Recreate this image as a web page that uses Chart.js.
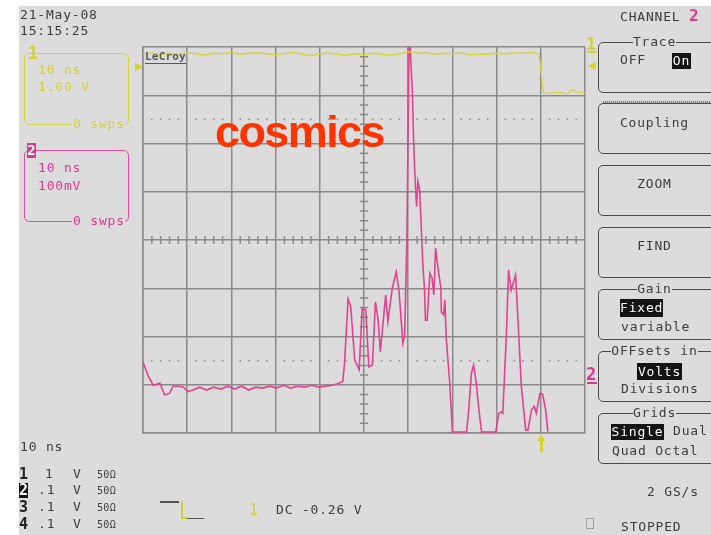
<!DOCTYPE html>
<html><head><meta charset="utf-8">
<script src="https://cdn.jsdelivr.net/npm/chart.js@4"></script>
<style>
html,body{margin:0;padding:0;width:711px;height:535px;overflow:hidden;background:#fff;position:relative;}
#bg{position:absolute;left:19px;top:6px;width:692px;height:529px;background:#dcdcdc;}
#c{position:absolute;left:0;top:0;}
.t{position:absolute;font-family:'DejaVu Sans Mono',monospace;font-size:13px;line-height:16px;letter-spacing:0.8px;color:#3c3c3c;white-space:pre;}
.y{color:#d2d23a;}
.p{color:#e0388a;}
.box{position:absolute;border:1px solid #4a4a4a;border-radius:5px;}
.hl{position:absolute;background:#141414;color:#fff;font-family:'DejaVu Sans Mono',monospace;font-size:13px;letter-spacing:0.8px;text-align:center;white-space:pre;}
.ctr{text-align:center;width:113px;left:598px;}
.bgc{background:#dcdcdc;}
.big{font-size:17px;line-height:17px;letter-spacing:0;font-weight:bold;}
.r{position:absolute;}
</style></head>
<body>
<div id="bg"></div>
<canvas id="c" width="711" height="535"></canvas>

<!-- header -->
<div class="t" style="left:20px;top:7px;">21-May-08</div>
<div class="t" style="left:20px;top:23px;">15:15:25</div>

<!-- channel 1 box -->
<div class="box" style="left:24px;top:53px;width:103px;height:70px;border-color:#d4d440;"></div>
<div class="t y big" style="left:28px;top:45px;">1</div>
<div class="t y" style="left:38px;top:62px;">10 ns</div>
<div class="t y" style="left:38px;top:79px;">1.00 V</div>
<div class="t y bgc" style="left:72px;top:116px;padding-left:1px;">0 swps</div>
<div class="r" style="left:135px;top:63px;width:0;height:0;border-left:8px solid #d4d42a;border-top:4px solid transparent;border-bottom:4px solid transparent;"></div>

<!-- channel 2 box -->
<div class="box" style="left:24px;top:150px;width:103px;height:70px;border-color:#e0509a;"></div>
<div class="hl" style="left:27px;top:143px;width:9px;height:15px;line-height:15px;background:#e0388a;font-weight:bold;font-size:14px;letter-spacing:0;">2</div>
<div class="t p" style="left:38px;top:160px;">10 ns</div>
<div class="t p" style="left:38px;top:178px;">100mV</div>
<div class="t p bgc" style="left:72px;top:213px;padding-left:1px;">0 swps</div>

<!-- LeCroy logo -->
<div class="t" style="left:145px;top:51px;font-size:11px;line-height:12px;letter-spacing:0.2px;font-weight:bold;color:#5a5a5a;border-bottom:1.5px solid #5a5a5a;">LeCroy</div>

<!-- cosmics label -->
<div class="r" style="left:215px;top:109px;font-family:'Liberation Sans',Arial,sans-serif;font-weight:bold;font-size:45px;line-height:45px;letter-spacing:-1.6px;color:#ff3300;">cosmics</div>

<!-- right side markers -->
<div class="t" style="left:620px;top:9px;">CHANNEL</div>
<div class="t p" style="left:689px;top:8px;font-size:16px;font-weight:bold;">2</div>
<div class="t y big" style="left:586px;top:36px;">1</div>
<div class="r" style="left:587px;top:51px;width:10px;height:2px;background:#d4d42a;"></div>
<div class="r" style="left:588px;top:62px;width:0;height:0;border-right:8px solid #d4d42a;border-top:4px solid transparent;border-bottom:4px solid transparent;"></div>
<div class="t p big" style="left:586px;top:366px;">2</div>
<div class="r" style="left:587px;top:382px;width:10px;height:2px;background:#e0388a;"></div>

<!-- buttons -->
<div class="box" style="left:598px;top:42px;width:130px;height:49px;"></div>
<div class="t ctr" style="top:34px;"><span class="bgc">Trace</span></div>
<div class="t" style="left:620px;top:52px;">OFF</div>
<div class="hl" style="left:672px;top:53px;width:19px;height:16px;line-height:16px;">On</div>

<div class="box" style="left:598px;top:103px;width:130px;height:49px;"></div>
<div class="r" style="left:603px;top:101px;width:120px;height:2px;background:repeating-linear-gradient(90deg,#777 0 1px,#cfcfcf 1px 2px);"></div>
<div class="t ctr" style="top:115px;">Coupling</div>

<div class="box" style="left:598px;top:165px;width:130px;height:49px;"></div>
<div class="t ctr" style="top:176px;">ZOOM</div>

<div class="box" style="left:598px;top:227px;width:130px;height:49px;"></div>
<div class="t ctr" style="top:238px;">FIND</div>

<div class="box" style="left:598px;top:289px;width:130px;height:49px;"></div>
<div class="t ctr" style="top:281px;"><span class="bgc">Gain</span></div>
<div class="hl" style="left:620px;top:299px;width:43px;height:18px;line-height:18px;">Fixed</div>
<div class="t" style="left:621px;top:319px;">variable</div>

<div class="box" style="left:598px;top:351px;width:130px;height:49px;"></div>
<div class="t ctr" style="top:343px;"><span class="bgc">OFFsets in</span></div>
<div class="hl" style="left:637px;top:363px;width:45px;height:17px;line-height:17px;">Volts</div>
<div class="t" style="left:621px;top:381px;">Divisions</div>

<div class="box" style="left:598px;top:413px;width:130px;height:49px;"></div>
<div class="t ctr" style="top:405px;"><span class="bgc">Grids</span></div>
<div class="hl" style="left:611px;top:424px;width:53px;height:16px;line-height:16px;">Single</div>
<div class="t" style="left:673px;top:423px;">Dual</div>
<div class="t" style="left:612px;top:443px;">Quad Octal</div>

<div class="t" style="left:647px;top:484px;">2 GS/s</div>
<div class="r" style="left:586px;top:518px;width:6px;height:9px;border:1px solid #a0a0a0;"></div>
<div class="t" style="left:621px;top:519px;">STOPPED</div>

<!-- bottom left -->
<div class="t" style="left:20px;top:439px;">10 ns</div>
<div class="t" style="left:19px;top:466px;font-weight:bold;font-size:15px;letter-spacing:0;color:#222;">1</div>
<div class="hl" style="left:19px;top:483px;width:9px;height:15px;line-height:15px;font-weight:bold;font-size:15px;letter-spacing:0;">2</div>
<div class="t" style="left:19px;top:499px;font-weight:bold;font-size:15px;letter-spacing:0;color:#222;">3</div>
<div class="t" style="left:19px;top:516px;font-weight:bold;font-size:15px;letter-spacing:0;color:#222;">4</div>
<div class="t" style="left:45px;top:466px;">1</div>
<div class="t" style="left:38px;top:482px;">.1</div>
<div class="t" style="left:38px;top:499px;">.1</div>
<div class="t" style="left:38px;top:516px;">.1</div>
<div class="t" style="left:73px;top:466px;">V</div>
<div class="t" style="left:73px;top:482px;">V</div>
<div class="t" style="left:73px;top:499px;">V</div>
<div class="t" style="left:73px;top:516px;">V</div>
<div class="t" style="left:97px;top:467px;font-size:10px;letter-spacing:0.3px;">50Ω</div>
<div class="t" style="left:97px;top:483px;font-size:10px;letter-spacing:0.3px;">50Ω</div>
<div class="t" style="left:97px;top:500px;font-size:10px;letter-spacing:0.3px;">50Ω</div>
<div class="t" style="left:97px;top:517px;font-size:10px;letter-spacing:0.3px;">50Ω</div>

<!-- trigger symbol -->
<div class="r" style="left:160px;top:501px;width:19px;height:1.5px;background:#555;"></div>
<div class="r" style="left:181px;top:501px;width:2px;height:17px;background:#d4d42a;"></div>
<div class="r" style="left:181px;top:517px;width:6px;height:2px;background:#d4d42a;"></div>
<div class="r" style="left:187px;top:517.5px;width:17px;height:1.5px;background:#555;"></div>
<div class="t y" style="left:249px;top:502px;font-size:15px;letter-spacing:0;">1</div>
<div class="t" style="left:276px;top:502px;">DC -0.26 V</div>

<!-- trigger arrow under grid -->
<div class="r" style="left:537px;top:434px;width:0;height:0;border-bottom:7px solid #d4d42a;border-left:4px solid transparent;border-right:4px solid transparent;"></div>
<div class="r" style="left:540px;top:440px;width:3px;height:12px;background:#d4d42a;"></div>

<script>
// ---- Data ----
// Channel 1 (yellow), 1 V/div, time in ns (10 ns/div, screen centre = 0)
const ch1_time_ns = [-50,-48,-46,-44,-42,-40,-38,-36,-34,-32,-30,-28,-26,-24,-22,-20,-18,-16,-14,-12,-10,-8,-6,-4,-2,0,2,4,6,8,10,12,14,16,18,20,22,24,26,28,30,32,34,36,38,39.6,40.6,42,44,46,47.2,48,50];
const ch1_V = [3.86,3.88,3.84,3.87,3.85,3.88,3.86,3.83,3.87,3.86,3.89,3.85,3.87,3.88,3.86,3.84,3.87,3.89,3.85,3.82,3.86,3.88,3.85,3.83,3.86,3.84,3.87,3.85,3.83,3.86,3.90,3.87,3.88,3.85,3.87,3.86,3.88,3.84,3.85,3.85,3.87,3.86,3.88,3.87,3.89,3.86,3.05,3.04,3.06,3.03,3.12,3.07,3.05];

// Channel 2 (magenta), 100 mV/div
const ch2_time_ns = [-50.0,-48.9,-47.7,-46.2,-45.1,-44.0,-43.2,-42.1,-41.0,-39.8,-38.7,-37.2,-35.6,-34.0,-32.4,-30.8,-29.3,-27.7,-26.1,-24.5,-22.9,-21.3,-19.8,-18.2,-16.6,-15.0,-13.4,-11.8,-10.3,-8.7,-7.1,-6.0,-4.8,-4.4,-3.6,-3.0,-2.1,-1.1,-0.4,0.4,1.1,1.9,2.6,3.2,3.7,4.9,5.4,6.4,7.3,7.9,8.8,9.2,9.7,10.2,10.45,10.95,11.2,11.5,11.9,12.2,12.6,13.0,13.3,13.7,13.9,14.3,14.9,15.4,15.8,16.2,16.7,17.4,17.5,18.0,18.3,18.6,19.4,20.0,23.2,23.7,24.3,24.8,25.4,26.0,26.6,29.8,30.5,31.1,31.4,32.2,32.7,33.3,34.3,34.8,35.6,36.6,37.1,37.9,38.5,39.0,39.8,40.4,41.1,41.6];
const ch2_mV = [-253,-280,-301,-297,-321,-318,-303,-303,-304,-314,-311,-305,-311,-305,-309,-303,-309,-303,-311,-305,-307,-303,-307,-301,-307,-303,-305,-301,-305,-303,-301,-298,-293,-255,-122,-138,-249,-269,-141,-145,-263,-259,-128,-166,-232,-114,-169,-100,-66,-104,-214,-197,0,398,398,307,214,139,69,121,104,17,-48,-104,-166,-166,-69,-79,-114,-17,-55,-100,-149,-155,-124,-203,-297,-398,-398,-352,-276,-259,-297,-352,-398,-398,-359,-356,-359,-200,-62,-104,-73,-159,-304,-394,-394,-352,-345,-359,-318,-319,-352,-397];

const ch1_V_per_div = 1;
const ch2_mV_per_div = 100;

// screen: 10 horizontal divisions, 8 vertical divisions
const timeMin = -50, timeMax = 50, timeStep = 10;
const divMin = -4, divMax = 4;

const ch1Points = ch1_time_ns.map((t, i) => ({x: t, y: ch1_V[i] / ch1_V_per_div}));
const ch2Points = ch2_time_ns.map((t, i) => ({x: t, y: ch2_mV[i] / ch2_mV_per_div}));

const GRID = '#8a8a8a';

const scopeMarks = {
  id: 'scopeMarks',
  beforeDatasetsDraw(chart) {
    const {ctx, scales: {x, y}} = chart;
    ctx.save();
    ctx.strokeStyle = GRID; ctx.lineWidth = 1.5;
    const y0 = y.getPixelForValue(0), x0 = x.getPixelForValue(0);
    ctx.beginPath();
    for (let t = timeMin; t <= timeMax; t += 2) {
      if (t % 10 === 0) continue;
      const px = x.getPixelForValue(t);
      ctx.moveTo(px, y0 - 4); ctx.lineTo(px, y0 + 4);
    }
    for (let k = divMin * 5; k <= divMax * 5; k++) {
      if (k % 5 === 0) continue;
      const py = y.getPixelForValue(k / 5);
      ctx.moveTo(x0 - 4, py); ctx.lineTo(x0 + 4, py);
    }
    ctx.stroke();
    ctx.fillStyle = GRID;
    for (const lv of [2.5, -2.5]) {
      const py = y.getPixelForValue(lv);
      for (let t = timeMin; t <= timeMax; t += 2) {
        if (t % 10 === 0) continue;
        ctx.fillRect(x.getPixelForValue(t) - 0.75, py - 0.75, 1.5, 1.5);
      }
    }
    ctx.restore();
  }
};

new Chart(document.getElementById('c'), {
  type: 'line',
  data: {
    datasets: [
      {label: 'CH1', data: ch1Points, borderColor: '#d6d63a', borderWidth: 1.3, pointRadius: 0, tension: 0},
      {label: 'CH2', data: ch2Points, borderColor: '#e3428f', borderWidth: 1.6, pointRadius: 0, tension: 0}
    ]
  },
  options: {
    responsive: false,
    animation: false,
    events: [],
    layout: {padding: {left: 143, top: 47, right: 126, bottom: 102}},
    plugins: {legend: {display: false}, tooltip: {enabled: false}},
    scales: {
      x: {type: 'linear', min: timeMin, max: timeMax,
          ticks: {display: false, stepSize: timeStep},
          grid: {color: GRID, lineWidth: 1.5, drawTicks: false},
          border: {display: true, color: GRID, width: 1.5}},
      y: {type: 'linear', min: divMin, max: divMax,
          ticks: {display: false, stepSize: 1},
          grid: {color: GRID, lineWidth: 1.5, drawTicks: false},
          border: {display: true, color: GRID, width: 1.5}}
    }
  },
  plugins: [scopeMarks]
});
</script>
</body></html>
